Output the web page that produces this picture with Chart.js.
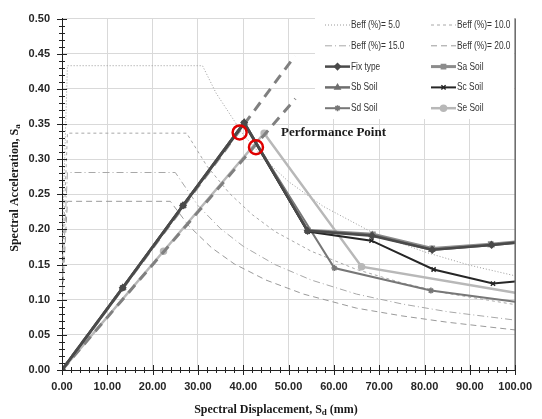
<!DOCTYPE html>
<html>
<head>
<meta charset="utf-8">
<script src="https://cdn.jsdelivr.net/npm/chart.js@4"></script>
<style>
  html, body { margin: 0; padding: 0; background: #fff; }
</style>
</head>
<body>
<canvas id="adrs" width="542" height="419"></canvas>
<script>
// demand spectra
const beff5X = [0, 1.2, 31, 34, 40, 45, 50, 57.6, 68.4, 80, 90, 100];
const beff5Y = [0.173, 0.433, 0.433, 0.394, 0.335, 0.298, 0.268, 0.233, 0.196, 0.168, 0.149, 0.134];
const beff10X = [0, 1.2, 27.5, 32, 37, 42, 47, 55, 65, 75, 85, 100];
const beff10Y = [0.135, 0.337, 0.337, 0.290, 0.251, 0.221, 0.197, 0.169, 0.143, 0.124, 0.109, 0.093];
const beff15X = [0, 1.2, 25, 30, 35, 40, 47, 55, 65, 75, 85, 100];
const beff15Y = [0.112, 0.281, 0.281, 0.234, 0.201, 0.176, 0.150, 0.128, 0.108, 0.094, 0.083, 0.071];
const beff20X = [0, 1.2, 23.9, 28, 33, 38, 45, 53.3, 65, 75, 85, 100];
const beff20Y = [0.096, 0.240, 0.240, 0.205, 0.174, 0.151, 0.128, 0.108, 0.088, 0.077, 0.068, 0.057];

// capacity curves
const fixX = [0, 13.4, 26.7, 40.2, 54.2, 68.4, 81.7, 94.8, 100];
const fixY = [0, 0.117, 0.234, 0.352, 0.198, 0.191, 0.171, 0.178, 0.181];
const saX = [0, 13.4, 26.7, 40.2, 54.2, 68.6, 81.7, 94.6, 100];
const saY = [0, 0.117, 0.234, 0.351, 0.199, 0.193, 0.173, 0.179, 0.182];
const sbX = [0, 13.4, 26.7, 40.2, 54.2, 68.5, 81.6, 94.7, 100];
const sbY = [0, 0.117, 0.234, 0.352, 0.198, 0.192, 0.171, 0.178, 0.181];
const scX = [0, 13.4, 26.7, 40.2, 54.2, 68.3, 82.0, 95.1, 100];
const scY = [0, 0.117, 0.234, 0.351, 0.197, 0.184, 0.143, 0.123, 0.126];
const sdX = [0, 13.4, 26.7, 40.2, 60.1, 81.4, 100];
const sdY = [0, 0.117, 0.234, 0.350, 0.145, 0.113, 0.097];
const seX = [0, 22.4, 44.6, 66.1, 100];
const seY = [0, 0.169, 0.337, 0.147, 0.110];

// straight dashed lines and performance points
const line1X = [0, 51.4];
const line1Y = [0, 0.447];
const line2X = [0, 51.5];
const line2Y = [0, 0.386];
const ppX = [39.2, 42.8];
const ppY = [0.338, 0.317];

const tickFont = { family: 'Liberation Sans, Arial, sans-serif', size: 11, weight: 'bold' };
const serif = 'bold 12px "Liberation Serif", "Times New Roman", serif';
const serifSub = 'bold 9px "Liberation Serif", "Times New Roman", serif';

function pts(xs, ys) {
  return xs.map((x, i) => ({ x: x, y: ys[i] }));
}

const markR = c => (c.raw && c.raw.x >= 100) ? 0 : 3;

function curve(label, xs, ys, color, width, style, dash) {
  return {
    label: label,
    data: pts(xs, ys),
    borderColor: color,
    backgroundColor: color,
    borderWidth: width,
    borderDash: dash || [],
    pointStyle: style || false,
    pointRadius: style ? markR : 0,
    pointBorderColor: color,
    pointBackgroundColor: color,
    pointBorderWidth: 1.5,
    tension: 0,
    fill: false
  };
}

const ds = {
  pp: {
    label: 'pp', data: pts(ppX, ppY), showLine: false,
    pointStyle: 'circle', pointRadius: 7, pointBorderWidth: 2.5,
    pointBorderColor: '#e00000', pointBackgroundColor: 'rgba(0,0,0,0)'
  },
  fix: curve('Fix type', fixX, fixY, '#4a4a4a', 2.5, 'rectRot'),
  sc: curve('Sc Soil', scX, scY, '#262626', 2, 'crossRot'),
  sb: curve('Sb Soil', sbX, sbY, '#6e6e6e', 2.5, 'triangle'),
  sa: curve('Sa Soil', saX, saY, '#8c8c8c', 3, 'rect'),
  sd: curve('Sd Soil', sdX, sdY, '#777777', 2, 'star'),
  l1: curve('l1', line1X, line1Y, '#808080', 3, null, [10, 7]),
  l2: curve('l2', line2X, line2Y, '#808080', 3, null, [10, 7]),
  se: curve('Se Soil', seX, seY, '#b8b8b8', 2.5, 'circle'),
  b5: curve('Beff (%)= 5.0', beff5X, beff5Y, '#9a9a9a', 1, null, [1, 2]),
  b10: curve('Beff (%)= 10.0', beff10X, beff10Y, '#a8a8a8', 1, null, [3, 3]),
  b15: curve('Beff (%)= 15.0', beff15X, beff15Y, '#a8a8a8', 1, null, [7, 3, 1, 3]),
  b20: curve('Beff (%)= 20.0', beff20X, beff20Y, '#9a9a9a', 1, null, [6, 4])
};

const legendRows = [
  [ds.b5, ds.b10], [ds.b15, ds.b20], [ds.fix, ds.sa], [ds.sb, ds.sc], [ds.sd, ds.se]
];

function drawTitle(ctx, x, y, main, sub, rest) {
  ctx.font = serif;
  const w1 = ctx.measureText(main).width;
  const w3 = ctx.measureText(rest).width;
  ctx.font = serifSub;
  const w2 = ctx.measureText(sub).width;
  let sx = x - (w1 + w2 + w3) / 2;
  ctx.textAlign = 'left';
  ctx.textBaseline = 'middle';
  ctx.font = serif;
  ctx.fillText(main, sx, y);
  ctx.font = serifSub;
  ctx.fillText(sub, sx + w1, y + 3);
  ctx.font = serif;
  ctx.fillText(rest, sx + w1 + w2, y);
}

const decor = {
  id: 'decor',
  beforeDatasetsDraw(chart) {
    const ctx = chart.ctx;
    ctx.save();
    ctx.fillStyle = '#fff';
    ctx.fillRect(315, 15, chart.chartArea.right - 316, 104);
    ctx.restore();
  },
  afterDraw(chart) {
    const ctx = chart.ctx;
    const a = chart.chartArea;
    const xs = chart.scales.x, ys = chart.scales.y;
    ctx.save();

    // right border
    ctx.strokeStyle = '#666';
    ctx.lineWidth = 1.5;
    ctx.beginPath();
    ctx.moveTo(a.right, a.top);
    ctx.lineTo(a.right, a.bottom);
    ctx.stroke();

    // cross ticks
    ctx.strokeStyle = '#222';
    ctx.lineWidth = 1;
    ctx.beginPath();
    for (let i = 0; i <= 50; i++) {
      const py = Math.round(ys.getPixelForValue(i * 0.01)) + 0.5;
      const len = i % 5 === 0 ? 5 : 3;
      ctx.moveTo(a.left - len, py);
      ctx.lineTo(a.left + len, py);
      const px = Math.round(xs.getPixelForValue(i * 2)) + 0.5;
      ctx.moveTo(px, a.bottom - len);
      ctx.lineTo(px, a.bottom + len);
    }
    ctx.stroke();

    // axis titles
    ctx.fillStyle = '#1a1a1a';
    drawTitle(ctx, 276, 410, 'Spectral Displacement, S', 'd', ' (mm)');
    ctx.save();
    ctx.translate(15, 188);
    ctx.rotate(-Math.PI / 2);
    drawTitle(ctx, 0, 0, 'Spectral Acceleration, S', 'a', '');
    ctx.restore();

    // annotation
    ctx.font = 'bold 13px "Liberation Serif", "Times New Roman", serif';
    ctx.textAlign = 'left';
    ctx.textBaseline = 'middle';
    ctx.fillText('Performance Point', 281, 133);

    // legend
    ctx.font = '11px "Liberation Sans", Arial, sans-serif';
    legendRows.forEach((row, r) => {
      const y = 25 + r * 20.8;
      row.forEach((d, c) => {
        const x0 = c === 0 ? 325 : 431;
        ctx.save();
        ctx.strokeStyle = d.borderColor;
        ctx.lineWidth = d.borderWidth;
        ctx.setLineDash(d.borderDash);
        ctx.beginPath();
        ctx.moveTo(x0, y);
        ctx.lineTo(x0 + 25, y);
        ctx.stroke();
        ctx.setLineDash([]);
        if (d.pointStyle) {
          ctx.fillStyle = d.borderColor;
          ctx.lineWidth = 1.5;
          Chart.helpers.drawPoint(ctx, { pointStyle: d.pointStyle, radius: 3, rotation: 0, borderWidth: 1.5 }, x0 + 12.5, y);
        }
        ctx.restore();
        // narrow the legend text, the original uses a condensed face
        ctx.save();
        ctx.translate(x0 + 26, y);
        ctx.scale(0.76, 1);
        ctx.fillStyle = '#333';
        ctx.fillText(d.label, 0, 0);
        ctx.restore();
      });
    });
    ctx.restore();
  }
};

new Chart(document.getElementById('adrs'), {
  type: 'line',
  data: {
    datasets: [ds.pp, ds.fix, ds.sc, ds.sb, ds.sa, ds.sd, ds.l1, ds.l2, ds.se,
      ds.b5, ds.b10, ds.b15, ds.b20]
  },
  options: {
    responsive: false,
    animation: false,
    layout: { padding: { top: 14, right: 15, left: 0, bottom: 0 } },
    plugins: { legend: { display: false }, tooltip: { enabled: false } },
    scales: {
      x: {
        type: 'linear', min: 0, max: 100,
        ticks: { stepSize: 10, font: tickFont, color: '#262626', padding: 10, callback: v => v.toFixed(2) },
        grid: { color: '#d9d9d9', drawTicks: false },
        border: { color: '#222', width: 1 },
        afterFit: s => { s.height = 49; }
      },
      y: {
        min: 0, max: 0.5,
        ticks: { stepSize: 0.05, font: tickFont, color: '#262626', padding: 12, callback: v => v.toFixed(2) },
        grid: { color: '#d9d9d9', drawTicks: false },
        border: { color: '#222', width: 1 },
        afterFit: s => { s.width = 62; }
      }
    }
  },
  plugins: [decor]
});
</script>
</body>
</html>
